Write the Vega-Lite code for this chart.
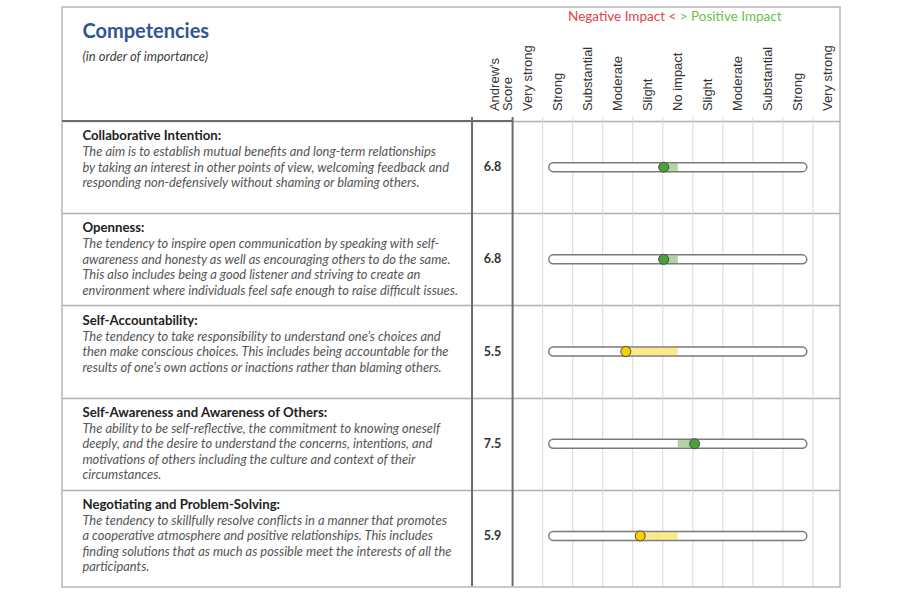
{
  "$schema": "https://vega.github.io/schema/vega-lite/v6.json",
  "width": 778,
  "height": 580,
  "autosize": {"type": "none"},
  "padding": {"left": 62, "top": 7, "right": 60, "bottom": 13},
  "background": "white",
  "config": {
    "view": {"stroke": "#b8b8b8", "strokeWidth": 1.5},
    "text": {"lineBreak": "\n"}
  },
  "datasets": {
    "competencies": [
      {"rank": 1, "name": "Collaborative Intention:", "description": "The aim is to establish mutual benefits and long-term relationships\nby taking an interest in other points of view, welcoming feedback and\nresponding non-defensively without shaming or blaming others.", "score": 6.8, "impact": -0.47, "zone": "Effective"},
      {"rank": 2, "name": "Openness:", "description": "The tendency to inspire open communication by speaking with self-\nawareness and honesty as well as encouraging others to do the same.\nThis also includes being a good listener and striving to create an\nenvironment where individuals feel safe enough to raise difficult issues.", "score": 6.8, "impact": -0.47, "zone": "Effective"},
      {"rank": 3, "name": "Self-Accountability:", "description": "The tendency to take responsibility to understand one’s choices and\nthen make conscious choices. This includes being accountable for the\nresults of one’s own actions or inactions rather than blaming others.", "score": 5.5, "impact": -1.73, "zone": "Developing"},
      {"rank": 4, "name": "Self-Awareness and Awareness of Others:", "description": "The ability to be self-reflective, the commitment to knowing oneself\ndeeply, and the desire to understand the concerns, intentions, and\nmotivations of others including the culture and context of their\ncircumstances.", "score": 7.5, "impact": 0.56, "zone": "Effective"},
      {"rank": 5, "name": "Negotiating and Problem-Solving:", "description": "The tendency to skillfully resolve conflicts in a manner that promotes\na cooperative atmosphere and positive relationships. This includes\nfinding solutions that as much as possible meet the interests of all the\nparticipants.", "score": 5.9, "impact": -1.25, "zone": "Developing"}
    ],
    "levels": [
      {"level": "Very strong", "impact": -5, "lo": -5.5},
      {"level": "Strong", "impact": -4, "lo": -4.5},
      {"level": "Substantial", "impact": -3, "lo": -3.5},
      {"level": "Moderate", "impact": -2, "lo": -2.5},
      {"level": "Slight", "impact": -1, "lo": -1.5},
      {"level": "No impact", "impact": 0, "lo": -0.5},
      {"level": "Slight", "impact": 1, "lo": 0.5},
      {"level": "Moderate", "impact": 2, "lo": 1.5},
      {"level": "Substantial", "impact": 3, "lo": 2.5},
      {"level": "Strong", "impact": 4, "lo": 3.5},
      {"level": "Very strong", "impact": 5, "lo": 4.5}
    ]
  },
  "layer": [
    {
      "data": {"name": "competencies"},
      "mark": {"type": "text", "font": "Lato", "fontSize": 13.2, "fontWeight": "bold", "color": "#222222", "align": "left", "baseline": "middle", "dy": -31},
      "encoding": {
        "x": {"datum": -19.82, "type": "quantitative", "scale": {"domain": [-20.5, 5.4], "nice": false, "zero": false}, "axis": null},
        "y": {"field": "rank", "type": "quantitative", "scale": {"domain": [-0.683, 5.5], "reverse": true, "nice": false, "zero": false},
              "axis": {"values": [0.5, 1.5, 2.5, 3.5, 4.5], "grid": true, "gridColor": "#b0b0b0", "gridWidth": 1.5, "labels": false, "ticks": false, "domain": false, "title": null}},
        "text": {"field": "name", "type": "nominal"}
      }
    },
    {
      "data": {"name": "levels"},
      "mark": {"type": "tick", "orient": "vertical", "color": "#d9d9d9", "thickness": 1, "size": 469, "opacity": 1},
      "encoding": {
        "x": {"field": "lo", "type": "quantitative", "axis": null},
        "y": {"datum": 3, "type": "quantitative"}
      }
    },
    {
      "data": {"values": [{}]},
      "mark": {"type": "tick", "orient": "horizontal", "color": "#6b6b6b", "thickness": 2, "size": 451, "opacity": 1},
      "encoding": {
        "x": {"datum": -12.99, "type": "quantitative", "axis": null},
        "y": {"datum": 0.5, "type": "quantitative"}
      }
    },
    {
      "data": {"values": [{}]},
      "mark": {"type": "tick", "orient": "vertical", "color": "#6b6b6b", "thickness": 2, "size": 469, "opacity": 1},
      "encoding": {
        "x": {"datum": -6.85, "type": "quantitative", "axis": null},
        "y": {"datum": 3, "type": "quantitative"}
      }
    },
    {
      "data": {"values": [{}]},
      "mark": {"type": "tick", "orient": "vertical", "color": "#6b6b6b", "thickness": 2, "size": 469, "opacity": 1},
      "encoding": {
        "x": {"datum": -5.5, "type": "quantitative", "axis": null},
        "y": {"datum": 3, "type": "quantitative"}
      }
    },
    {
      "data": {"values": [{}]},
      "mark": {"type": "text", "text": "Competencies", "font": "Lato", "fontSize": 20, "fontWeight": "bold", "color": "#2f5597", "align": "left", "baseline": "middle"},
      "encoding": {
        "x": {"datum": -19.82, "type": "quantitative", "axis": null},
        "y": {"datum": -0.47, "type": "quantitative"}
      }
    },
    {
      "data": {"values": [{}]},
      "mark": {"type": "text", "text": "(in order of importance)", "font": "Lato", "fontSize": 13, "fontStyle": "italic", "color": "#404040", "align": "left", "baseline": "middle"},
      "encoding": {
        "x": {"datum": -19.82, "type": "quantitative", "axis": null},
        "y": {"datum": -0.193, "type": "quantitative"}
      }
    },
    {
      "data": {"values": [{}]},
      "mark": {"type": "text", "text": "Negative Impact <", "font": "Lato", "fontSize": 13.5, "color": "#e2424a", "align": "right", "baseline": "middle", "dx": -1.5},
      "encoding": {
        "x": {"datum": 0, "type": "quantitative", "axis": null},
        "y": {"datum": -0.63, "type": "quantitative"}
      }
    },
    {
      "data": {"values": [{}]},
      "mark": {"type": "text", "text": "> Positive Impact", "font": "Lato", "fontSize": 13.5, "color": "#6cbf4f", "align": "left", "baseline": "middle", "dx": 2},
      "encoding": {
        "x": {"datum": 0, "type": "quantitative", "axis": null},
        "y": {"datum": -0.63, "type": "quantitative"}
      }
    },
    {
      "data": {"values": [{}]},
      "mark": {"type": "text", "text": "Andrew's\nScore", "font": "Liberation Sans", "fontSize": 13, "lineHeight": 13.5, "color": "#333333", "angle": 270, "align": "left", "baseline": "middle", "dx": 10},
      "encoding": {
        "x": {"datum": -6.09, "type": "quantitative", "axis": null},
        "y": {"datum": 0.5, "type": "quantitative"}
      }
    },
    {
      "data": {"name": "levels"},
      "mark": {"type": "text", "font": "Liberation Sans", "fontSize": 13, "color": "#333333", "angle": 270, "align": "left", "baseline": "middle", "dx": 10},
      "encoding": {
        "x": {"field": "impact", "type": "quantitative", "axis": null},
        "y": {"datum": 0.5, "type": "quantitative"},
        "text": {"field": "level", "type": "nominal"}
      }
    },
    {
      "data": {"name": "competencies"},
      "mark": {"type": "text", "font": "Lato", "fontSize": 12.9, "fontStyle": "italic", "lineHeight": 15.5, "color": "#555555", "align": "left", "baseline": "top", "dy": -21},
      "encoding": {
        "x": {"datum": -19.82, "type": "quantitative", "axis": null},
        "y": {"field": "rank", "type": "quantitative",
              "axis": {"values": [0.5, 1.5, 2.5, 3.5, 4.5], "grid": true, "gridColor": "#b0b0b0", "gridWidth": 1.5, "labels": false, "ticks": false, "domain": false, "title": null}},
        "text": {"field": "description", "type": "nominal"}
      }
    },
    {
      "data": {"name": "competencies"},
      "mark": {"type": "text", "font": "Lato", "fontSize": 12.5, "fontWeight": "bold", "color": "#333333", "align": "center", "baseline": "middle"},
      "encoding": {
        "x": {"datum": -6.17, "type": "quantitative", "axis": null},
        "y": {"field": "rank", "type": "quantitative",
              "axis": {"values": [0.5, 1.5, 2.5, 3.5, 4.5], "grid": true, "gridColor": "#b0b0b0", "gridWidth": 1.5, "labels": false, "ticks": false, "domain": false, "title": null}},
        "text": {"field": "score", "type": "quantitative", "format": ".1f"}
      }
    },
    {
      "data": {"name": "competencies"},
      "mark": {"type": "tick", "orient": "horizontal", "size": 258, "thickness": 9, "cornerRadius": 4.5, "fill": "#ffffff", "stroke": "#7a7a7a", "strokeWidth": 1.5, "opacity": 1},
      "encoding": {
        "x": {"datum": 0, "type": "quantitative", "axis": null},
        "y": {"field": "rank", "type": "quantitative",
              "axis": {"values": [0.5, 1.5, 2.5, 3.5, 4.5], "grid": true, "gridColor": "#b0b0b0", "gridWidth": 1.5, "labels": false, "ticks": false, "domain": false, "title": null}}
      }
    },
    {
      "data": {"name": "competencies"},
      "mark": {"type": "bar", "orient": "horizontal", "size": 7.5, "opacity": 0.45},
      "encoding": {
        "x": {"field": "impact", "type": "quantitative", "stack": null, "axis": null},
        "y": {"field": "rank", "type": "quantitative",
              "axis": {"values": [0.5, 1.5, 2.5, 3.5, 4.5], "grid": true, "gridColor": "#b0b0b0", "gridWidth": 1.5, "labels": false, "ticks": false, "domain": false, "title": null}},
        "color": {"field": "zone", "type": "nominal", "scale": {"domain": ["Effective", "Developing"], "range": ["#4ca236", "#f7d000"]}, "legend": null}
      }
    },
    {
      "data": {"name": "competencies"},
      "mark": {"type": "point", "filled": true, "size": 100, "opacity": 1, "stroke": "#4a4a4a", "strokeWidth": 1},
      "encoding": {
        "x": {"field": "impact", "type": "quantitative", "axis": null},
        "y": {"field": "rank", "type": "quantitative",
              "axis": {"values": [0.5, 1.5, 2.5, 3.5, 4.5], "grid": true, "gridColor": "#b0b0b0", "gridWidth": 1.5, "labels": false, "ticks": false, "domain": false, "title": null}},
        "color": {"field": "zone", "type": "nominal", "scale": {"domain": ["Effective", "Developing"], "range": ["#4ca236", "#f7d000"]}, "legend": null}
      }
    }
  ]
}
